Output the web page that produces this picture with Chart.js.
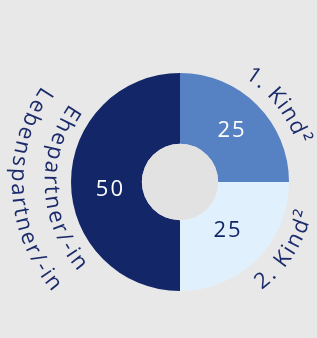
<!DOCTYPE html>
<html>
<head>
<meta charset="utf-8">
<script src="https://cdn.jsdelivr.net/npm/chart.js@4/dist/chart.umd.min.js"></script>
<style>
  html, body { margin: 0; padding: 0; background: #e8e8e8; }
  #wrap { width: 317px; height: 338px; }
</style>
</head>
<body>
<div id="wrap"><canvas id="pie"></canvas></div>
<script>
// Data
const categories = ["1. Kind²", "2. Kind²", ["Ehepartner/-in", "Lebenspartner/-in"]];
const values = [25, 25, 50];

// Styles
const colors = ["#5682c4", "#e0f1fd", "#132668"];
const valueColors = ["#ffffff", "#132668", "#ffffff"];
const FONT = "'Open Sans', 'Noto Sans', sans-serif";
const labelOpts = [
  { shift: 7, clockwise: true, nudge: [0, 1] },
  { shift: -12, clockwise: false, nudge: [-4, -3] },
  { shift: -3, clockwise: false, nudge: [4, 8] }
];

function drawArcText(ctx, text, cx, cy, r, mid, clockwise, spacing) {
  const chars = Array.from(text);
  const widths = chars.map(ch => ctx.measureText(ch).width);
  const total = widths.reduce((a, b) => a + b, 0) + spacing * (widths.length - 1);
  let offset = 0;
  chars.forEach((ch, i) => {
    const d = (offset + widths[i] / 2) / r;
    const a = clockwise ? mid - total / (2 * r) + d : mid + total / (2 * r) - d;
    ctx.save();
    ctx.translate(cx + r * Math.cos(a), cy + r * Math.sin(a));
    ctx.rotate(clockwise ? a + Math.PI / 2 : a - Math.PI / 2);
    ctx.fillText(ch, 0, 0);
    ctx.restore();
    offset += widths[i] + spacing;
  });
}

const labelsPlugin = {
  id: "labels",
  afterDatasetsDraw(chart) {
    const ctx = chart.ctx;
    const meta = chart.getDatasetMeta(0);
    ctx.save();
    // hole
    const a0 = meta.data[0];
    ctx.fillStyle = "#e2e2e2";
    ctx.beginPath();
    ctx.arc(a0.x, a0.y, a0.innerRadius, 0, Math.PI * 2);
    ctx.fill();

    ctx.textAlign = "center";
    ctx.textBaseline = "middle";
    meta.data.forEach((arc, i) => {
      const o = labelOpts[i];
      // value
      const p = arc.getCenterPoint();
      ctx.fillStyle = valueColors[i];
      ctx.font = "22px " + FONT;
      ctx.letterSpacing = "2px";
      ctx.fillText(String(values[i]), p.x + o.nudge[0], p.y + o.nudge[1]);
      ctx.letterSpacing = "0px";

      // curved category label
      const mid = (arc.startAngle + arc.endAngle) / 2 + o.shift * Math.PI / 180;
      const lines = Array.isArray(categories[i]) ? categories[i] : [categories[i]];
      ctx.fillStyle = "#1b2a6b";
      ctx.font = "22px " + FONT;
      lines.forEach((line, j) => {
        const r = arc.outerRadius + 20 + j * 33;
        drawArcText(ctx, line, arc.x, arc.y, r, mid, o.clockwise, 1.8);
      });
    });
    ctx.restore();
  }
};

new Chart(document.getElementById("pie"), {
  type: "doughnut",
  data: {
    labels: categories,
    datasets: [{
      data: values,
      backgroundColor: colors,
      borderWidth: 0
    }]
  },
  options: {
    responsive: true,
    maintainAspectRatio: false,
    animation: false,
    cutout: "35%",
    layout: { padding: { left: 71, right: 28, top: 73, bottom: 47 } },
    plugins: {
      legend: { display: false },
      tooltip: { enabled: false }
    }
  },
  plugins: [labelsPlugin]
});
</script>
</body>
</html>
